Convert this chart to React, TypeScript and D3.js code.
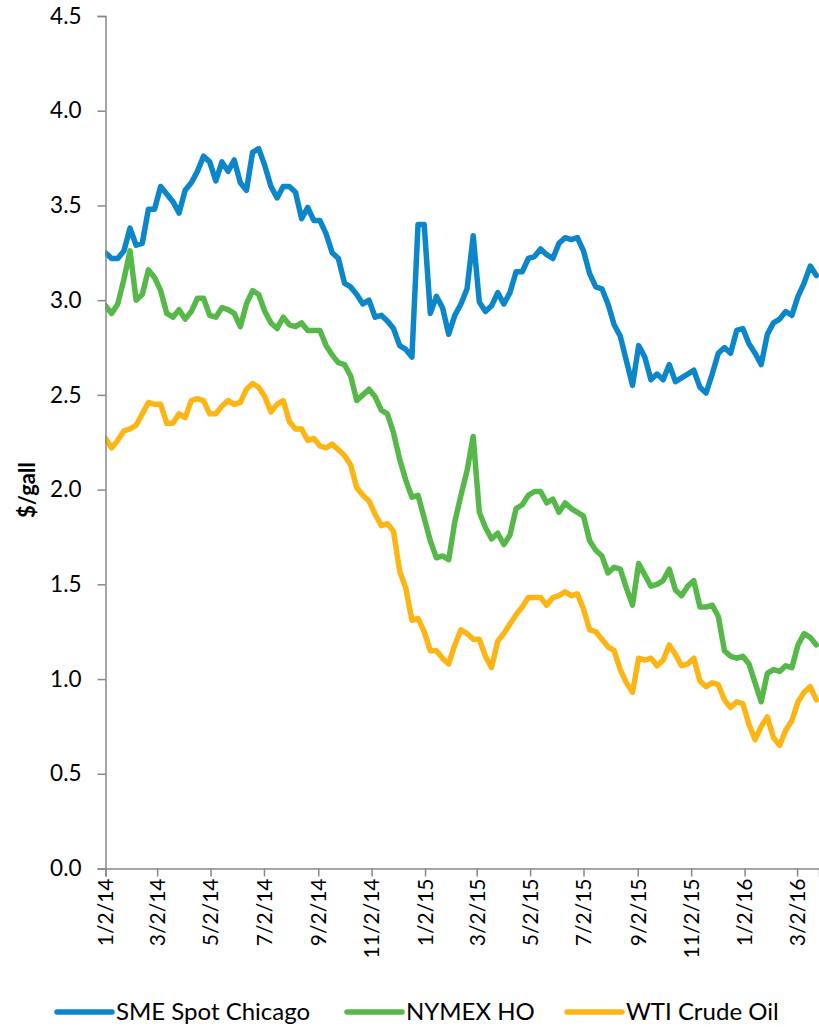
import React, { useEffect, useRef } from "react";
import * as d3 from "d3";

// weekly samples starting 1/2/14
const startDate = "1/2/14";
const stepDays = 7;

const smeSpotChicago = [
  3.25, 3.22, 3.22, 3.26, 3.38, 3.29, 3.3, 3.48, 3.48, 3.6,
  3.56, 3.52, 3.46, 3.58, 3.62, 3.68, 3.76, 3.73, 3.63, 3.73,
  3.68, 3.74, 3.62, 3.58, 3.78, 3.8, 3.71, 3.6, 3.54, 3.6,
  3.6, 3.57, 3.43, 3.49, 3.42, 3.42, 3.35, 3.25, 3.22, 3.09,
  3.07, 3.03, 2.98, 3.0, 2.91, 2.92, 2.89, 2.85, 2.76, 2.74,
  2.7, 3.4, 3.4, 2.93, 3.02, 2.96, 2.82, 2.92, 2.98, 3.06,
  3.34, 2.99, 2.94, 2.97, 3.04, 2.98, 3.04, 3.15, 3.15, 3.22,
  3.23, 3.27, 3.24, 3.22, 3.3, 3.33, 3.32, 3.33, 3.26, 3.14,
  3.07, 3.06, 2.98, 2.87, 2.81, 2.68, 2.55, 2.76, 2.7, 2.58,
  2.61, 2.58, 2.66, 2.57, 2.59, 2.61, 2.63, 2.54, 2.51, 2.61,
  2.72, 2.75, 2.72, 2.84, 2.85, 2.77, 2.72, 2.66, 2.82, 2.88,
  2.9, 2.94, 2.92, 3.02, 3.09, 3.18, 3.13,
];

const nymexHO = [
  2.97, 2.93, 2.98, 3.11, 3.26, 3.0, 3.03, 3.16, 3.12, 3.05,
  2.93, 2.91, 2.95, 2.9, 2.94, 3.01, 3.01, 2.92, 2.91, 2.96,
  2.95, 2.93, 2.86, 2.98, 3.05, 3.03, 2.94, 2.88, 2.85, 2.91,
  2.87, 2.86, 2.88, 2.84, 2.84, 2.84, 2.76, 2.71, 2.67, 2.66,
  2.6, 2.47, 2.5, 2.53, 2.49, 2.42, 2.4, 2.3, 2.16, 2.05,
  1.96, 1.97, 1.85, 1.73, 1.64, 1.65, 1.63, 1.83, 1.97, 2.1,
  2.28, 1.88, 1.8, 1.74, 1.77, 1.71, 1.76, 1.9, 1.92, 1.97,
  1.99, 1.99, 1.93, 1.95, 1.88, 1.93, 1.9, 1.88, 1.86, 1.73,
  1.68, 1.65, 1.56, 1.59, 1.58, 1.48, 1.39, 1.61, 1.55, 1.49,
  1.5, 1.52, 1.58, 1.47, 1.44, 1.49, 1.52, 1.38, 1.38, 1.39,
  1.33, 1.15, 1.12, 1.11, 1.12, 1.08, 0.98, 0.88, 1.03, 1.05,
  1.04, 1.07, 1.06, 1.18, 1.24, 1.22, 1.18,
];

const wtiCrudeOil = [
  2.27, 2.22, 2.26, 2.31, 2.32, 2.34, 2.4, 2.46, 2.45, 2.45,
  2.35, 2.35, 2.4, 2.38, 2.47, 2.48, 2.47, 2.4, 2.4, 2.44,
  2.47, 2.45, 2.46, 2.53, 2.56, 2.54, 2.49, 2.41, 2.45, 2.47,
  2.36, 2.32, 2.32, 2.26, 2.27, 2.23, 2.22, 2.24, 2.21, 2.18,
  2.13, 2.01, 1.97, 1.94, 1.87, 1.81, 1.82, 1.78, 1.57, 1.48,
  1.31, 1.32, 1.25, 1.15, 1.15, 1.11, 1.08, 1.18, 1.26, 1.24,
  1.21, 1.21, 1.12, 1.06, 1.2, 1.24, 1.29, 1.34, 1.38, 1.43,
  1.43, 1.43, 1.39, 1.43, 1.44, 1.46, 1.44, 1.45, 1.37, 1.26,
  1.25, 1.21, 1.17, 1.15, 1.05, 0.98, 0.93, 1.11, 1.1, 1.11,
  1.07, 1.1, 1.18, 1.13, 1.07, 1.08, 1.11, 0.99, 0.96, 0.98,
  0.97, 0.89, 0.85, 0.88, 0.87, 0.76, 0.68, 0.75, 0.8, 0.69,
  0.65, 0.73, 0.78, 0.88, 0.93, 0.96, 0.89,
];

const seriesNames = ["SME Spot Chicago", "NYMEX HO", "WTI Crude Oil"];
const seriesColors = ["#0B86CB", "#55B848", "#FDB515"];

const xTickLabels = [
  "1/2/14", "3/2/14", "5/2/14", "7/2/14", "9/2/14", "11/2/14", "1/2/15",
  "3/2/15", "5/2/15", "7/2/15", "9/2/15", "11/2/15", "1/2/16", "3/2/16",
];
const yTicks = [0, 0.5, 1, 1.5, 2, 2.5, 3, 3.5, 4, 4.5];
const axisEnd = "3/27/16";

const parseDate = (s: string) => {
  const [m, d, y] = s.split("/").map(Number);
  return new Date(2000 + y, m - 1, d);
};

const App = () => {
  const svgRef = useRef<SVGSVGElement>(null);

  useEffect(() => {
    const width = 819;
    const height = 1029;
    const font = "Lato, 'Open Sans', sans-serif";

    const svg = d3.select(svgRef.current).attr("width", width).attr("height", height);
    svg.selectAll("*").remove();

    const start = parseDate(startDate);
    const dates = smeSpotChicago.map((_, i) => d3.timeDay.offset(start, i * stepDays));

    const x = d3.scaleTime().domain([start, parseDate(axisEnd)]).range([105.5, 819]);
    const y = d3.scaleLinear().domain([0, 4.5]).range([868.5, 16]);

    svg
      .append("defs")
      .append("clipPath")
      .attr("id", "plot-clip")
      .append("rect")
      .attr("x", 105)
      .attr("y", 0)
      .attr("width", 714)
      .attr("height", 880);

    // lines
    const line = d3
      .line<number>()
      .x((_, i) => x(dates[i]))
      .y((d) => y(d));

    const allSeries = [smeSpotChicago, nymexHO, wtiCrudeOil];
    allSeries.forEach((s, k) => {
      svg
        .append("path")
        .datum(s)
        .attr("clip-path", "url(#plot-clip)")
        .attr("fill", "none")
        .attr("stroke", seriesColors[k])
        .attr("stroke-width", 5.5)
        .attr("stroke-linejoin", "round")
        .attr("stroke-linecap", "round")
        .attr("d", line);
    });

    // y axis
    const yAxis = svg
      .append("g")
      .attr("transform", "translate(105.5,0)")
      .call(
        d3
          .axisLeft(y)
          .tickValues(yTicks)
          .tickSize(8)
          .tickPadding(16)
          .tickFormat((d) => d3.format(".1f")(d as number))
      );
    yAxis.select(".domain").attr("stroke", "#888").attr("stroke-width", 1.5);
    yAxis.selectAll(".tick line").attr("stroke", "#888").attr("stroke-width", 1.5);
    yAxis
      .selectAll(".tick text")
      .attr("font-family", font)
      .attr("font-size", 22.5)
      .attr("fill", "#000");

    // x axis
    const xAxis = svg
      .append("g")
      .attr("transform", "translate(0,868.5)")
      .call(
        d3
          .axisBottom(x)
          .tickValues(xTickLabels.map(parseDate))
          .tickSize(8)
          .tickFormat((_, i) => xTickLabels[i])
      );
    xAxis.select(".domain").attr("stroke", "#888").attr("stroke-width", 1.5);
    xAxis.selectAll(".tick line").attr("stroke", "#888").attr("stroke-width", 1.5);
    xAxis
      .selectAll(".tick text")
      .attr("font-family", font)
      .attr("font-size", 21)
      .attr("fill", "#000")
      .attr("transform", "rotate(-90)")
      .attr("text-anchor", "end")
      .attr("x", -10)
      .attr("y", 0)
      .attr("dy", "0.35em");

    // y axis title
    svg
      .append("text")
      .attr("transform", "translate(35,490) rotate(-90)")
      .attr("text-anchor", "middle")
      .attr("font-family", font)
      .attr("font-weight", "bold")
      .attr("font-size", 22)
      .text("$/gall");

    // legend
    const legendX = [57, 347, 567];
    seriesNames.forEach((name, k) => {
      const g = svg.append("g").attr("transform", `translate(${legendX[k]},1012)`);
      g.append("line")
        .attr("x1", 0)
        .attr("x2", 55)
        .attr("stroke", seriesColors[k])
        .attr("stroke-width", 5.5)
        .attr("stroke-linecap", "round");
      g.append("text")
        .attr("x", 59)
        .attr("dy", "0.35em")
        .attr("font-family", font)
        .attr("font-size", 24)
        .attr("fill", "#000")
        .text(name);
    });
  }, []);

  return (
    <div>
      <svg ref={svgRef} style={{ position: "absolute", left: 0, top: 0 }}></svg>
    </div>
  );
};

export default App;
